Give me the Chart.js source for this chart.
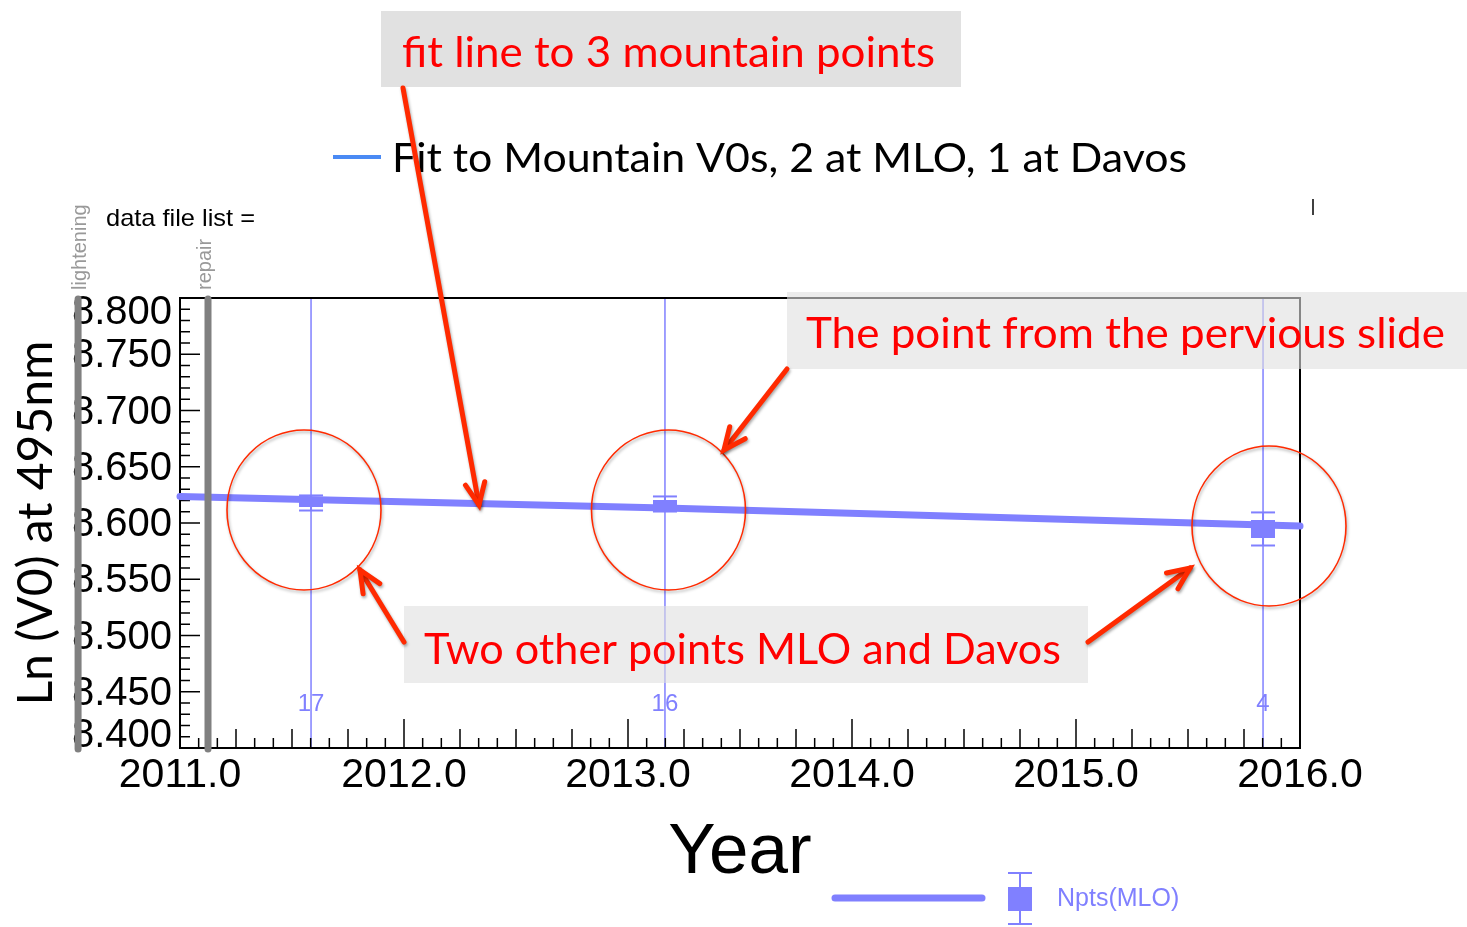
<!DOCTYPE html>
<html><head><meta charset="utf-8">
<script src="https://cdn.jsdelivr.net/npm/chart.js@4.4.1/dist/chart.umd.min.js"></script>
<style>html,body{margin:0;padding:0;background:#fff;overflow:hidden}</style>
</head><body>
<canvas id="c" width="1467" height="927"></canvas>
<script>
// ---------------- data ----------------
const years = [2011.585, 2013.165, 2015.835];
const lnV0 = [8.6178, 8.6169, 8.5947];
const lnV0Err = [0.0067, 0.0067, 0.0147];
const nPts = ['17', '16', '4'];
const fitYears = [2011.0, 2013.165, 2016.0];
const fitLnV0 = [8.6236, 8.6133, 8.5973];
const eventNames = ['lightening', 'repair'];
const eventYears = [2010.545, 2011.125];
const xMin = 2011, xMax = 2016, xStep = 1;
const yMin = 8.4, yMax = 8.8, yStep = 0.05;
const fitLabel = 'Fit to Mountain V0s, 2 at MLO, 1 at Davos';
const pointLabel = 'Npts(MLO)';
const xTitle = 'Year';
const yTitle = 'Ln (V0) at 495nm';
const fileListText = 'data file list =';
const notes = ['fit line to 3 mountain points', 'The point from the pervious slide', 'Two other points MLO and Davos'];

// ---------------- styles ----------------
const BLUE = '#8080ff';
const RED_TXT = '#ff0000';
const RED_ARW = '#ff2a00';
const SANS = '"Liberation Sans", Arial, Helvetica, sans-serif';
const HUM = 'Lato, "Open Sans", sans-serif';

function markerCanvas(w, h) {
  const c = document.createElement('canvas'); c.width = w; c.height = h;
  const g = c.getContext('2d'); g.fillStyle = BLUE; g.fillRect(0, 0, w, h); return c;
}
const markerImgs = [markerCanvas(24, 8), markerCanvas(24, 8), markerCanvas(24, 18)];

const overlay = {
  boxes: [
    {x: 381, y: 11, w: 580, h: 76, fill: '#e1e1e1', tx: 402, ty: 67, tw: 533, size: 42},
    {x: 787, y: 292, w: 680, h: 77, fill: 'rgba(223,223,223,0.6)', tx: 806, ty: 348, tw: 639, size: 42},
    {x: 404, y: 606, w: 684, h: 77, fill: 'rgba(223,223,223,0.6)', tx: 424, ty: 664, tw: 637, size: 42}
  ],
  arrows: [[403, 88, 479, 505], [787, 369, 724, 450], [404, 642, 360, 570], [1088, 642, 1190, 568]],
  circles: [[304, 510, 77, 80], [668.5, 510, 77, 80], [1269, 526, 77, 80]],
  eventLabelOffset: [8, 3]
};

function fitText(ctx, text, x, y, width, font, color) {
  ctx.save();
  ctx.font = font; ctx.fillStyle = color; ctx.textBaseline = 'alphabetic'; ctx.textAlign = 'left';
  const w = ctx.measureText(text).width;
  ctx.translate(x, y); ctx.scale(width / w, 1); ctx.fillText(text, 0, 0);
  ctx.restore();
}
function seg(ctx, x1, y1, x2, y2) { ctx.beginPath(); ctx.moveTo(x1, y1); ctx.lineTo(x2, y2); ctx.stroke(); }
function arrow(ctx, x1, y1, x2, y2) {
  const a = Math.atan2(y2 - y1, x2 - x1), L = 24, sp = 0.42;
  seg(ctx, x1, y1, x2, y2);
  ctx.beginPath();
  ctx.moveTo(x2 - L * Math.cos(a - sp), y2 - L * Math.sin(a - sp));
  ctx.lineTo(x2, y2);
  ctx.lineTo(x2 - L * Math.cos(a + sp), y2 - L * Math.sin(a + sp));
  ctx.stroke();
}

const decor = {
  id: 'decor',
  beforeDatasetsDraw(chart) {
    const {ctx, chartArea: ca, scales: {x: xs, y: ys}} = chart;
    ctx.save();
    ctx.strokeStyle = BLUE; ctx.lineWidth = 1.5;
    years.forEach((yr, i) => {
      const px = xs.getPixelForValue(yr);
      seg(ctx, px, ca.top, px, ca.bottom);
      ctx.fillStyle = BLUE; ctx.font = '24px ' + SANS; ctx.textAlign = 'center'; ctx.textBaseline = 'middle';
      ctx.fillText(nPts[i], px, 704);
    });
    ctx.strokeStyle = '#000'; ctx.lineWidth = 1.5;
    const nMonths = Math.round((xMax - xMin) * 12);
    for (let m = 0; m <= nMonths; m++) {
      const px = xs.getPixelForValue(xMin + m / 12);
      const len = m % 12 === 0 ? 29 : (m % 3 === 0 ? 19 : 10);
      seg(ctx, px, ca.bottom, px, ca.bottom - len);
    }
    const nMinor = Math.round((yMax - yMin) * 100);
    for (let k = 0; k <= nMinor; k++) {
      const py = ys.getPixelForValue(yMin + k * 0.01);
      const len = k % 5 === 0 ? 20 : 10;
      seg(ctx, ca.left, py, ca.left + len, py);
    }
    ctx.lineWidth = 2; ctx.strokeStyle = '#000';
    ctx.strokeRect(ca.left, ca.top, ca.right - ca.left, ca.bottom - ca.top);
    ctx.restore();
  },
  afterDatasetsDraw(chart) {
    const {ctx, scales: {x: xs, y: ys}} = chart;
    ctx.save();
    ctx.strokeStyle = BLUE; ctx.lineWidth = 2;
    years.forEach((yr, i) => {
      const px = xs.getPixelForValue(yr);
      const hi = ys.getPixelForValue(lnV0[i] + lnV0Err[i]);
      const lo = ys.getPixelForValue(lnV0[i] - lnV0Err[i]);
      seg(ctx, px, hi, px, lo);
      seg(ctx, px - 12, hi, px + 12, hi);
      seg(ctx, px - 12, lo, px + 12, lo);
    });
    ctx.restore();
  },
  afterDraw(chart) {
    const {ctx, chartArea: ca, scales: {x: xs}} = chart;
    ctx.save();
    eventYears.forEach((ev, i) => {
      const px = xs.getPixelForValue(ev);
      ctx.strokeStyle = '#808080'; ctx.lineWidth = 7; ctx.lineCap = 'round';
      seg(ctx, px, ca.top + 1, px, ca.bottom + 1);
      ctx.save();
      ctx.translate(px + overlay.eventLabelOffset[i], ca.top - 8);
      ctx.rotate(-Math.PI / 2);
      ctx.fillStyle = '#999'; ctx.font = '20px ' + SANS; ctx.textAlign = 'left'; ctx.textBaseline = 'alphabetic';
      ctx.fillText(eventNames[i], 0, 0);
      ctx.restore();
    });
    ctx.lineCap = 'butt';
    fitText(ctx, fileListText, 106, 226, 149, '24px ' + SANS, '#000');
    ctx.strokeStyle = '#000'; ctx.lineWidth = 1.5; seg(ctx, 1313, 199, 1313, 215);
    ctx.strokeStyle = '#4a8af4'; ctx.lineWidth = 4; seg(ctx, 333, 157, 381, 157);
    fitText(ctx, fitLabel, 392, 172, 795, '40px ' + HUM, '#000');
    ctx.strokeStyle = BLUE; ctx.lineWidth = 7; ctx.lineCap = 'round'; seg(ctx, 835, 898, 982, 898);
    ctx.lineCap = 'butt'; ctx.lineWidth = 2;
    seg(ctx, 1020, 873, 1020, 924); seg(ctx, 1008, 873, 1032, 873); seg(ctx, 1008, 924, 1032, 924);
    ctx.fillStyle = BLUE; ctx.fillRect(1008, 887, 24, 24);
    ctx.font = '25px ' + SANS; ctx.textBaseline = 'middle'; ctx.textAlign = 'left'; ctx.fillText(pointLabel, 1057, 899);
    ctx.save();
    ctx.shadowColor = 'rgba(0,0,0,0.35)'; ctx.shadowBlur = 3; ctx.shadowOffsetX = 1; ctx.shadowOffsetY = 2;
    ctx.strokeStyle = RED_ARW; ctx.lineWidth = 1.6;
    overlay.circles.forEach(c => { ctx.beginPath(); ctx.ellipse(c[0], c[1], c[2], c[3], 0, 0, Math.PI * 2); ctx.stroke(); });
    ctx.restore();
    overlay.boxes.forEach((b, i) => {
      ctx.fillStyle = b.fill; ctx.fillRect(b.x, b.y, b.w, b.h);
      fitText(ctx, notes[i], b.tx, b.ty, b.tw, b.size + 'px ' + HUM, RED_TXT);
    });
    ctx.save();
    ctx.shadowColor = 'rgba(0,0,0,0.35)'; ctx.shadowBlur = 3; ctx.shadowOffsetX = 1; ctx.shadowOffsetY = 2;
    ctx.strokeStyle = RED_ARW; ctx.lineWidth = 5; ctx.lineCap = 'round'; ctx.lineJoin = 'miter';
    overlay.arrows.forEach(a => arrow(ctx, a[0], a[1], a[2], a[3]));
    ctx.restore();
    ctx.restore();
  }
};

function clampYLabels(scale) {
  if (scale._clampWrapped) return;
  scale._clampWrapped = true;
  const orig = scale._computeLabelItems;
  scale._computeLabelItems = function (ca) {
    const items = orig.call(this, ca);
    items.forEach(it => {
      const t = it.options && it.options.translation;
      if (t) t[1] = Math.min(Math.max(t[1] + 2, this.top + 15), this.bottom - 12);
    });
    return items;
  };
  scale._labelItems = null;
}

new Chart(document.getElementById('c'), {
  data: {
    datasets: [
      {
        type: 'line', label: fitLabel,
        data: fitYears.map((x, i) => ({x, y: fitLnV0[i]})),
        borderColor: BLUE, borderWidth: 7, borderCapStyle: 'round',
        pointRadius: 0, tension: 0, clip: false
      },
      {
        type: 'scatter', label: pointLabel,
        data: years.map((x, i) => ({x, y: lnV0[i]})),
        pointStyle: (c) => markerImgs[c.dataIndex] || markerImgs[2],
        backgroundColor: BLUE, borderColor: BLUE, pointRadius: 10, clip: false
      }
    ]
  },
  options: {
    responsive: false, animation: false, devicePixelRatio: 1,
    layout: {padding: {left: 0, top: 298, right: 167, bottom: 0}},
    plugins: {legend: {display: false}, tooltip: {enabled: false}},
    scales: {
      x: {
        type: 'linear', min: xMin, max: xMax,
        border: {display: false},
        grid: {display: false, drawTicks: false},
        ticks: {stepSize: xStep, autoSkip: false, maxRotation: 0, padding: 3, color: '#000',
          font: {size: 41, family: SANS}, callback: v => Number(v).toFixed(1)},
        title: {display: true, text: xTitle, color: '#000', font: {size: 71, family: SANS}, padding: {top: 0, bottom: 31}},
        afterFit: s => { s.height = 179; }
      },
      y: {
        type: 'linear', min: yMin, max: yMax,
        border: {display: false},
        grid: {display: false, drawTicks: false},
        ticks: {stepSize: yStep, autoSkip: false, padding: 8, color: '#000',
          font: {size: 40, family: SANS}, callback: v => Number(v).toFixed(3)},
        title: {display: true, text: yTitle, color: '#000', font: {size: 48, family: HUM}, padding: {top: 8, bottom: 0}},
        afterFit: s => { s.width = 180; },
        afterUpdate: clampYLabels
      }
    }
  },
  plugins: [decor]
});
</script>
</body></html>
